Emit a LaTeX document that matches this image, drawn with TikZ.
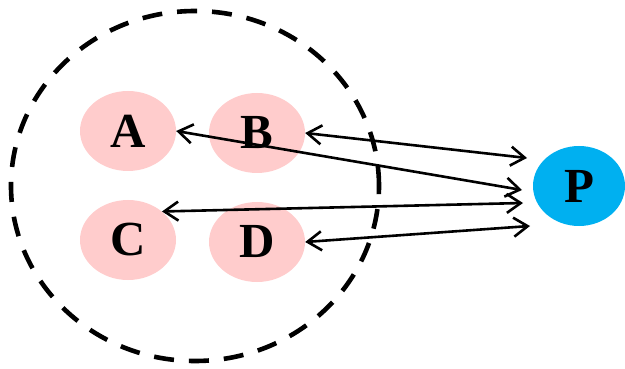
\documentclass[tikz,border=0pt]{standalone}
\usepackage{fontspec}
\setmainfont{Liberation Serif}
\usetikzlibrary{shapes.geometric,arrows.meta}
\definecolor{pinkfill}{HTML}{FFCCCC}
\definecolor{bluefill}{HTML}{00B0F0}
\tikzset{
  member/.style={ellipse, fill=pinkfill, minimum width=96pt, minimum height=80pt, inner sep=0pt, font=\fontsize{49}{49}\selectfont\bfseries},
  target/.style={ellipse, fill=bluefill, minimum width=92pt, minimum height=80pt, inner sep=0pt, font=\fontsize{49}{49}\selectfont\bfseries},
  group/.style={ellipse, draw, line width=4.6pt, dash pattern=on 20pt off 15pt, minimum width=368pt, minimum height=350pt, inner sep=0pt},
  link/.style={line width=2.6pt, {Straight Barb[length=14pt,width=19pt]}-{Straight Barb[length=14pt,width=19pt]}}
}
\begin{document}
\begin{tikzpicture}[x=1pt,y=-1pt]
\useasboundingbox (0,0) rectangle (625,369);
\node[group] (grp) at (195,186) {};
\node[member] (A) at (128,131) {A};
\node[member] (B) at (257,133) {B};
\node[member] (C) at (128,240) {C};
\node[member] (D) at (257,242) {D};
\node[target] (P) at (579,186) {P};
\coordinate (pa) at (522,190);
\coordinate (pb) at (527,158);
\coordinate (pc) at (523,203);
\coordinate (pd) at (530,226);
\draw[link] (A.east) -- (pa);
\draw[link] (B.east) -- (pb);
\draw[link] (C.40) -- (pc);
\draw[link] (D.east) -- (pd);
\end{tikzpicture}
\end{document}
